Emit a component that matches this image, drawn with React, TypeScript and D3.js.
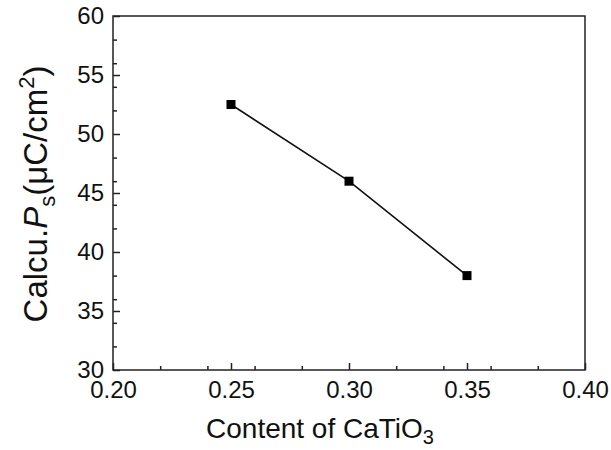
import React, { useEffect, useRef } from 'react';
import * as d3 from 'd3';

// data
const content = [0.25, 0.3, 0.35];
const polarization = [52.5, 46.0, 38.0];
const xTicks = [0.2, 0.25, 0.3, 0.35, 0.4];
const yTicks = [30, 35, 40, 45, 50, 55, 60];

const W = 611;
const H = 450;
const margin = { top: 16, right: 26, bottom: 80, left: 113 };

const App = () => {
  const svgRef = useRef<SVGSVGElement>(null);

  useEffect(() => {
    const svg = d3.select(svgRef.current);
    svg.selectAll('*').remove();

    const x = d3.scaleLinear().domain([0.2, 0.4]).range([margin.left, W - margin.right]);
    const y = d3.scaleLinear().domain([30, 60]).range([H - margin.bottom, margin.top]);

    const font = 'Liberation Sans, Arial, sans-serif';

    // frame
    svg.append('rect')
      .attr('x', x(0.2)).attr('y', y(60))
      .attr('width', x(0.4) - x(0.2)).attr('height', y(30) - y(60))
      .attr('fill', 'none').attr('stroke', '#222').attr('stroke-width', 1.5);

    // minor ticks
    const xMinor = x.ticks(8).filter(v => !xTicks.some(t => Math.abs(t - v) < 1e-9));
    const yMinor = y.ticks(12).filter(v => !yTicks.includes(v));

    svg.append('g')
      .attr('transform', `translate(0,${y(30)})`)
      .call(d3.axisBottom(x).tickValues(xMinor).tickSize(-4).tickFormat(() => ''))
      .call(g => g.select('.domain').remove())
      .selectAll('line').attr('stroke', '#222').attr('stroke-width', 1.5);

    svg.append('g')
      .attr('transform', `translate(${x(0.2)},0)`)
      .call(d3.axisLeft(y).tickValues(yMinor).tickSize(-4).tickFormat(() => ''))
      .call(g => g.select('.domain').remove())
      .selectAll('line').attr('stroke', '#222').attr('stroke-width', 1.5);

    // major ticks + labels
    const xAxis = svg.append('g')
      .attr('transform', `translate(0,${y(30)})`)
      .call(d3.axisBottom(x).tickValues(xTicks).tickSize(-7).tickPadding(11).tickFormat(d3.format('.2f')));
    xAxis.select('.domain').remove();
    xAxis.selectAll('line').attr('stroke', '#222').attr('stroke-width', 1.5);
    xAxis.selectAll('text').attr('font-size', 24).attr('font-family', font).attr('fill', '#111');

    const yAxis = svg.append('g')
      .attr('transform', `translate(${x(0.2)},0)`)
      .call(d3.axisLeft(y).tickValues(yTicks).tickSize(-7).tickPadding(9));
    yAxis.select('.domain').remove();
    yAxis.selectAll('line').attr('stroke', '#222').attr('stroke-width', 1.5);
    yAxis.selectAll('text').attr('font-size', 24).attr('font-family', font).attr('fill', '#111');

    // line + markers
    const pts = content.map((c, i) => [c, polarization[i]] as [number, number]);
    svg.append('path')
      .datum(pts)
      .attr('fill', 'none')
      .attr('stroke', '#111')
      .attr('stroke-width', 1.6)
      .attr('d', d3.line<[number, number]>().x(d => x(d[0])).y(d => y(d[1])));

    svg.selectAll('rect.pt')
      .data(pts)
      .enter()
      .append('rect')
      .attr('class', 'pt')
      .attr('x', d => x(d[0]) - 4.5)
      .attr('y', d => y(d[1]) - 4.5)
      .attr('width', 9)
      .attr('height', 9)
      .attr('fill', '#000');

    // x title
    const xt = svg.append('text')
      .attr('x', 320).attr('y', 438)
      .attr('text-anchor', 'middle')
      .attr('font-family', font).attr('font-size', 28).attr('fill', '#111');
    xt.append('tspan').text('Content of CaTiO');
    xt.append('tspan').attr('font-size', 20).attr('dy', 6).text('3');

    // y title
    const yt = svg.append('text')
      .attr('transform', `translate(47,194) rotate(-90)`)
      .attr('text-anchor', 'middle')
      .attr('font-family', font).attr('font-size', 33).attr('fill', '#111');
    yt.append('tspan').text('Calcu.');
    yt.append('tspan').attr('font-style', 'italic').text('P');
    yt.append('tspan').attr('font-size', 22).attr('dy', 8).text('s');
    yt.append('tspan').attr('dy', -8).text('(μC/cm');
    yt.append('tspan').attr('font-size', 22).attr('dy', -13).text('2');
    yt.append('tspan').attr('dy', 13).text(')');
  }, []);

  return (
    <svg
      ref={svgRef}
      width={W}
      height={H}
      style={{ position: 'absolute', left: 0, top: 0, background: '#fff' }}
    />
  );
};

export default App;
